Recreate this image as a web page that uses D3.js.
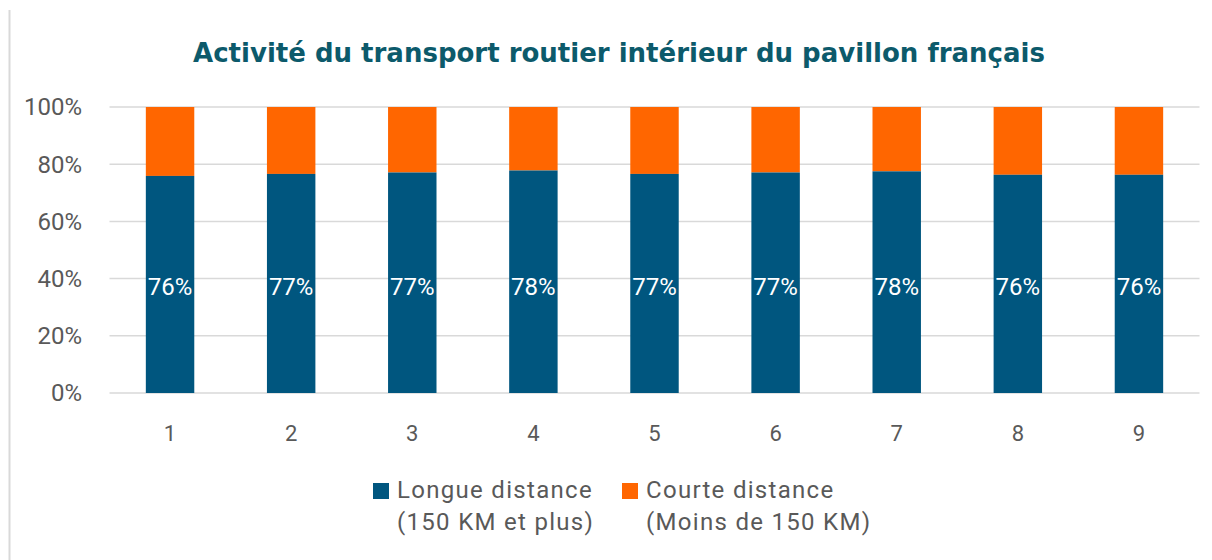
<!DOCTYPE html>
<html>
<head>
<meta charset="utf-8">
<script src="https://cdn.jsdelivr.net/npm/d3@7"></script>
<style>
  body { margin: 0; background: #fff; }
  text { font-family: Roboto, "Noto Sans", sans-serif; }
  .title { font-family: "DejaVu Sans", sans-serif; }
</style>
</head>
<body>
<div id="chart"></div>
<script>
// data
var categories = ["1", "2", "3", "4", "5", "6", "7", "8", "9"];
var longue = [0.759, 0.766, 0.771, 0.778, 0.766, 0.771, 0.775, 0.763, 0.763];
var labels = ["76%", "77%", "77%", "78%", "77%", "77%", "78%", "76%", "76%"];
var yTicks = [0, 0.2, 0.4, 0.6, 0.8, 1];
var seriesNames = [["Longue distance", "(150 KM et plus)"], ["Courte distance", "(Moins de 150 KM)"]];

var W = 1212, H = 560;
var blue = "#00567f", orange = "#ff6600";

var svg = d3.select("#chart").append("svg")
  .attr("width", W).attr("height", H);

// frame line on the left
svg.append("line")
  .attr("x1", 9.5).attr("x2", 9.5).attr("y1", 10).attr("y2", H)
  .attr("stroke", "#d9d9d9").attr("stroke-width", 2);

svg.append("text").attr("class", "title")
  .attr("x", 619).attr("y", 62)
  .attr("text-anchor", "middle")
  .style("font-size", "26px").style("font-weight", "bold")
  .attr("fill", "#0c5a6b")
  .text("Activité du transport routier intérieur du pavillon français");

var x = d3.scaleBand().domain(categories).range([109.5, 1199.5]).paddingInner(0.6).paddingOuter(0.3);
var y = d3.scaleLinear().domain([0, 1]).range([393, 107]);

// gridlines
svg.append("g").selectAll("line").data(yTicks).enter().append("line")
  .attr("x1", 109.5).attr("x2", 1199.5)
  .attr("y1", function(d) { return y(d); }).attr("y2", function(d) { return y(d); })
  .attr("stroke", "#d9d9d9").attr("stroke-width", 1.5);

// y labels
svg.append("g").selectAll("text").data(yTicks).enter().append("text")
  .attr("x", 82).attr("y", function(d) { return y(d); })
  .attr("dy", "0.35em").attr("text-anchor", "end")
  .style("font-size", "24px").attr("fill", "#595959")
  .text(function(d) { return d3.format(".0%")(d); });

// x labels
svg.append("g").selectAll("text").data(categories).enter().append("text")
  .attr("x", function(d) { return x(d) + x.bandwidth() / 2; }).attr("y", 441)
  .attr("text-anchor", "middle")
  .style("font-size", "22px").attr("fill", "#595959")
  .text(function(d) { return d; });

var bars = svg.append("g");
bars.selectAll("rect.court").data(categories).enter().append("rect")
  .attr("x", function(d) { return x(d); })
  .attr("width", x.bandwidth())
  .attr("y", y(1))
  .attr("height", function(d, i) { return y(longue[i]) - y(1); })
  .attr("fill", orange);
bars.selectAll("rect.long").data(categories).enter().append("rect")
  .attr("x", function(d) { return x(d); })
  .attr("width", x.bandwidth())
  .attr("y", function(d, i) { return y(longue[i]); })
  .attr("height", function(d, i) { return y(0) - y(longue[i]); })
  .attr("fill", blue);

bars.selectAll("text").data(categories).enter().append("text")
  .attr("x", function(d) { return x(d) + x.bandwidth() / 2; })
  .attr("y", 295)
  .attr("text-anchor", "middle")
  .style("font-size", "24px").attr("fill", "#fff")
  .text(function(d, i) { return labels[i]; });

// legend
var legX = [373, 622], cols = [blue, orange];
seriesNames.forEach(function(n, i) {
  var g = svg.append("g").attr("transform", "translate(" + legX[i] + ",0)");
  g.append("rect").attr("x", 0).attr("y", 483).attr("width", 16).attr("height", 16).attr("fill", cols[i]);
  g.append("text").attr("x", 24).attr("y", 498)
    .style("font-size", "24px").style("letter-spacing", "1.3px")
    .attr("fill", "#595959").text(n[0]);
  g.append("text").attr("x", 24).attr("y", 530)
    .style("font-size", "24px").style("letter-spacing", "1.3px")
    .attr("fill", "#595959").text(n[1]);
});
</script>
</body>
</html>
